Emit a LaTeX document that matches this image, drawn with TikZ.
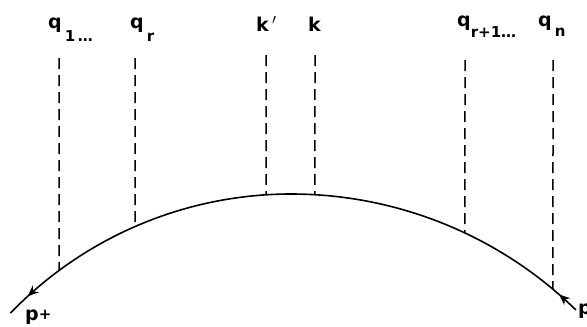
\documentclass[tikz,border=0pt]{standalone}
\usepackage{fontspec}
\setsansfont{DejaVu Sans}
\usetikzlibrary{arrows.meta,decorations.markings,intersections,calc}
\newcommand\dsub[2][12pt]{\raisebox{-#1}{\fontsize{15}{15}\selectfont #2}}
\begin{document}
\begin{tikzpicture}[x=1pt,y=-1pt,
  lbl/.style={font=\sffamily\bfseries\fontsize{19}{19}\selectfont, inner sep=0pt, anchor=base west},
  cutline/.style={line width=1.5pt, dash pattern=on 11pt off 6pt},
  lineline/.style={line width=1.6pt}]
\useasboundingbox (0,0) rectangle (587,327);
% labels
\node[lbl] (lq1) at (48,28) {q\,\dsub[13pt]{1\,\ldots}};
\node[lbl] (lqr) at (130,28) {q\,\dsub[13pt]{r}};
\node[lbl] (lkp) at (256,31) {k\,$'$};
\node[lbl] (lk) at (308,31) {k};
\node[lbl] (lqr1) at (457,26) {q\dsub[11pt]{r+1\ldots}};
\node[lbl] (lqn) at (538,26) {q\,\dsub[10pt]{n}};
\node[lbl] (lpp) at (25,320) {p\raisebox{1pt}{\fontsize{15}{15}\selectfont +}};
\node[lbl] (lp) at (578,314) {p};
% geometry of the line: two arcs meeting at the top
\coordinate (pk) at (291,194);
\coordinate (cR) at (291,602);
\coordinate (cL) at (291,584);
\coordinate (eR) at ($(cR)+(-45.7:408)$);
% main line
\draw[lineline, name path=curve, postaction={decorate}, decoration={markings,
    mark=at position 23pt with {\arrow{Stealth[length=11pt,width=9pt]}},
    mark=at position -24pt with {\arrow{Stealth[length=11pt,width=9pt]}}}]
  (eR) arc[start angle=-45.7, end angle=-90, radius=408]
       arc[start angle=-90, end angle=-136, radius=390] coordinate (eL);
% tops of dashed lines
\coordinate (t1) at (59,58);
\coordinate (tr) at (135,58);
\coordinate (tkp) at (266,55);
\coordinate (tk) at (315,55);
\coordinate (tr1) at (465,60);
\coordinate (tn) at (553,60);
% feet on the line
\foreach \t/\b in {t1/b1, tr/br, tkp/bkp, tk/bk, tr1/br1, tn/bn}{
  \path[name path=v\t] (\t) -- ++(0,300);
  \path[name intersections={of=curve and v\t, by=\b}];
}
% dashed lines
\draw[cutline] (t1) -- (b1);
\draw[cutline] (tr) -- (br);
\draw[cutline] (tkp) -- (bkp);
\draw[cutline] (tk) -- (bk);
\draw[cutline] (tr1) -- (br1);
\draw[cutline] (tn) -- (bn);
\end{tikzpicture}
\end{document}
